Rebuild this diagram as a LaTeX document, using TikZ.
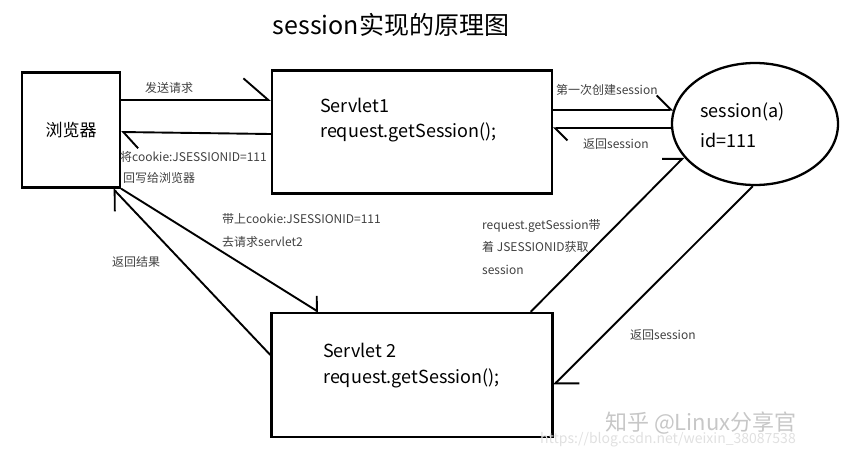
\documentclass[tikz,border=0pt]{standalone}
\usepackage{fontspec}
\setmainfont{Noto Sans CJK SC}
\usetikzlibrary{arrows.meta,shapes.geometric}
\begin{document}
\begin{tikzpicture}[x=1pt,y=-1pt,
  box/.style={rectangle,draw,line width=2.3pt,inner sep=0pt},
  harp/.style={line width=1.9pt,-{Straight Barb[harpoon,angle=#1]}},
  harp/.default={90:20pt},
  lbl/.style={anchor=west,inner sep=0pt,text=black!75,font=\fontsize{12}{14}\selectfont},
  big/.style={anchor=west,inner sep=0pt,font=\fontsize{18}{22}\selectfont}]
  \useasboundingbox (0,0) rectangle (843,456);
  % draw title
  \node at(391,25)[font=\fontsize{25}{30}\selectfont](title){session实现的原理图};
  % draw browser
  \node at(71,130)[box,minimum width=98pt,minimum height=115pt,font=\fontsize{17}{20}\selectfont](browser){浏览器};
  % draw servlet 1
  \node at(412,132)[box,minimum width=280pt,minimum height=123pt](s1){};
  \node at(320,105)[big](s1name){Servlet1};
  \node at(320,132)[big](s1call){request.getSession();};
  % draw session
  \node at(755,124)[ellipse,draw,line width=2.3pt,minimum width=166pt,minimum height=122pt](sess){};
  \node at(700,112)[big](sessname){session(a)};
  \node at(700,140)[big](sessid){id=111};
  % draw servlet 2
  \node at(412,375)[box,minimum width=281pt,minimum height=124pt](s2){};
  \node at(323,350)[big](s2name){Servlet 2};
  \node at(323,378)[big](s2call){request.getSession();};
  % draw arrows between browser and servlet 1
  \draw [harp=82:33pt]([yshift=30pt]browser.east) -- ([yshift=32pt]s1.west);
  \draw [harp=94:22pt]([yshift=-2pt]s1.west) -- ([yshift=-2pt]browser.east);
  \node at(145,88)[lbl]{发送请求};
  \node at(120,157)[lbl]{将cookie:JSESSIONID=111};
  \node at(123,178)[lbl]{回写给浏览器};
  % draw arrows between servlet 1 and session
  \draw [harp](s1.east |- sess.170) -- (sess.170);
  \draw [harp=90:17pt](sess.183) -- (s1.east |- sess.183);
  \node at(556,90)[lbl]{第一次创建session};
  \node at(583,144)[lbl]{返回session};
  % draw arrows between browser and servlet 2
  \draw [harp=115:15pt](browser.south east) -- ([xshift=48pt]s2.north west);
  \draw [harp=86:21pt]([yshift=20pt]s2.west) -- ([xshift=42pt]browser.south);
  \node at(222,219)[lbl]{带上cookie:JSESSIONID=111};
  \node at(222,242)[lbl]{去请求servlet2};
  \node at(112,262)[lbl]{返回结果};
  % draw arrows between servlet 2 and session
  \draw [harp]([xshift=-23pt]s2.north east) -- (sess.205);
  \draw [harp=90:24pt](sess.268) -- ([yshift=-10pt]s2.east);
  \node at(482,226)[lbl]{request.getSession带};
  \node at(482,247)[lbl]{着 JSESSIONID获取};
  \node at(482,270)[lbl]{session};
  \node at(630,335)[lbl]{返回session};
  % draw watermark
  \node at(605,423)[anchor=west,inner sep=0pt,text=black!22,font=\fontsize{22}{26}\selectfont]{知乎 @Linux分享官};
  \node at(540,440)[anchor=west,inner sep=0pt,text=black!12,font=\fontsize{14}{16}\selectfont]{https://blog.csdn.net/weixin\_38087538};
\end{tikzpicture}
\end{document}
